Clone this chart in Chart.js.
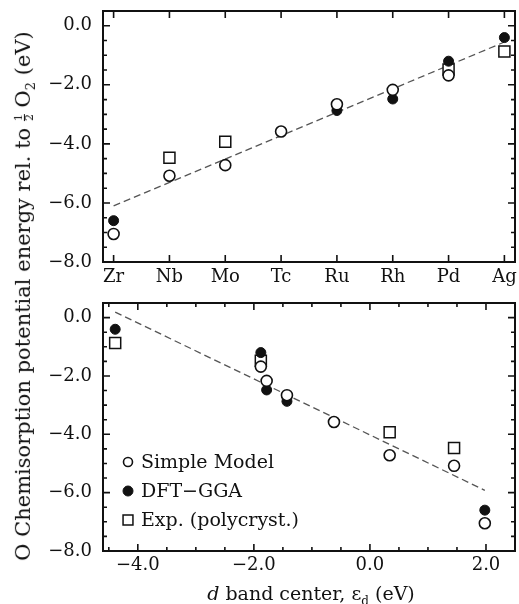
<!DOCTYPE html>
<html>
<head>
<meta charset="utf-8">
<script src="https://cdn.jsdelivr.net/npm/chart.js@4.4.0/dist/chart.umd.min.js"></script>
<style>
  body { margin: 0; background: #fff; }
  #wrap { position: relative; width: 519px; height: 604px; overflow: hidden; font-family: "DejaVu Serif", serif; color: #111; }
  .box { position: absolute; left: 0; width: 519px; }
  #ytitle { position: absolute; width: 620px; left: -283px; top: 281px; text-align: center; font-size: 21px;
            white-space: nowrap; transform: rotate(-90deg); transform-origin: center; line-height: 22px; }
  .frac { display: inline-block; vertical-align: middle; font-size: 11px; line-height: 10px; text-align: center; }
  .frac span { display: block; }
  .frac span.den { border-top: 1px solid #111; }
  #xtitle { position: absolute; left: 0; width: 622px; top: 582px; text-align: center; font-size: 19px; white-space: nowrap; }
  #xtitle sub { font-size: 12px; }
</style>
</head>
<body>
<div id="wrap">
  <div class="box" style="top:0;height:300px"><canvas id="top"></canvas></div>
  <div class="box" style="top:292px;height:312px"><canvas id="bottom"></canvas></div>
  <div id="ytitle">O Chemisorption potential energy rel. to <span class="frac"><span>1</span><span class="den">2</span></span> O<sub style="font-size:13px">2</sub> (eV)</div>
  <div id="xtitle"><i>d</i> band center, ε<sub>d</sub> (eV)</div>
</div>
<script>
// metals, top panel x labels
const metals = ['Zr', 'Nb', 'Mo', 'Tc', 'Ru', 'Rh', 'Pd', 'Ag'];
// d band center (eV) for each metal, bottom panel x
const dBandCenter = [1.98, 1.45, 0.34, -0.62, -1.43, -1.78, -1.88, -4.39];

// O chemisorption energies (eV)
const simpleModel = [-7.05, -5.08, -4.72, -3.58, -2.66, -2.17, -1.68, null];
const dftGGA = [-6.6, null, null, null, -2.87, -2.48, -1.2, -0.4];
const expPoly = [null, -4.47, -3.93, null, null, null, -1.48, -0.87];

// dashed fit lines
const fitTopX = [0, 7];
const fitTopY = [-6.1, -0.55];
const fitBottomX = [-4.39, 1.98];
const fitBottomY = [0.19, -5.92];

const ink = '#111';

function pts(xs, ys) {
  return xs.map((x, i) => ({x: x, y: ys[i]})).filter(p => p.y !== null);
}

function minus(v) {
  return v.toFixed(1).replace('-', '\u2212');
}

// box round the plot with inward ticks on all four sides
const framePlugin = {
  id: 'frame',
  afterDraw(chart, args, opts) {
    const ctx = chart.ctx;
    const a = chart.chartArea;
    const xs = chart.scales.x, ys = chart.scales.y;
    ctx.save();
    ctx.strokeStyle = ink;
    ctx.lineWidth = 1.6;
    ctx.beginPath();
    const tick = (p, len, horiz) => {
      if (horiz) {
        ctx.moveTo(p, a.bottom); ctx.lineTo(p, a.bottom - len);
        ctx.moveTo(p, a.top); ctx.lineTo(p, a.top + len);
      } else {
        ctx.moveTo(a.left, p); ctx.lineTo(a.left + len, p);
        ctx.moveTo(a.right, p); ctx.lineTo(a.right - len, p);
      }
    };
    xs.ticks.forEach(t => tick(xs.getPixelForValue(t.value), 7, true));
    ys.ticks.forEach(t => tick(ys.getPixelForValue(t.value), 7, false));
    if (opts.xMinor) {
      for (let v = Math.ceil(xs.min / opts.xMinor) * opts.xMinor; v <= xs.max; v += opts.xMinor) {
        tick(xs.getPixelForValue(v), 4, true);
      }
    }
    if (opts.yMinor) {
      for (let v = Math.ceil(ys.min / opts.yMinor) * opts.yMinor; v <= ys.max; v += opts.yMinor) {
        tick(ys.getPixelForValue(v), 4, false);
      }
    }
    ctx.stroke();
    ctx.lineWidth = 2;
    ctx.strokeRect(a.left, a.top, a.right - a.left, a.bottom - a.top);
    ctx.restore();
  }
};

// legend in the lower left of the bottom panel
const legendPlugin = {
  id: 'boxLegend',
  afterDatasetsDraw(chart, args, opts) {
    if (!opts.show) return;
    const ctx = chart.ctx;
    const a = chart.chartArea;
    let y = a.bottom - 89;
    ctx.save();
    ctx.font = '19px "DejaVu Serif"';
    ctx.textBaseline = 'middle';
    chart.data.datasets.forEach(ds => {
      if (!ds.inLegend) return;
      ctx.strokeStyle = ds.borderColor;
      ctx.fillStyle = ds.backgroundColor;
      ctx.lineWidth = ds.borderWidth;
      Chart.helpers.drawPoint(ctx, {pointStyle: ds.pointStyle, radius: ds.legendRadius, borderWidth: ds.borderWidth}, a.left + 25, y);
      ctx.fillStyle = ink;
      ctx.fillText(ds.label, a.left + 38, y + 1);
      y += 29;
    });
    ctx.restore();
  }
};

function markerSets(xs) {
  return [
    {label: 'Simple Model', data: pts(xs, simpleModel), pointStyle: 'circle', pointRadius: 5.5, legendRadius: 4.5,
     backgroundColor: '#fff', borderColor: ink, borderWidth: 1.6, inLegend: true},
    {label: 'DFT\u2212GGA', data: pts(xs, dftGGA), pointStyle: 'circle', pointRadius: 5, legendRadius: 5,
     backgroundColor: ink, borderColor: ink, borderWidth: 1, inLegend: true},
    {label: 'Exp. (polycryst.)', data: pts(xs, expPoly), pointStyle: 'rect', pointRadius: 7.8, legendRadius: 7,
     backgroundColor: '#fff', borderColor: ink, borderWidth: 1.5, inLegend: true}
  ];
}

function fitSet(xs, ys) {
  return {type: 'line', label: 'fit', data: pts(xs, ys), showLine: true, pointRadius: 0,
          borderColor: '#555', borderWidth: 1.3, borderDash: [7, 4], fill: false, inLegend: false};
}

function makeConfig(datasets, xOpts, yOpts, plugOpts, xHeight) {
  return {
    type: 'scatter',
    data: {datasets: datasets},
    options: {
      responsive: true,
      maintainAspectRatio: false,
      animation: false,
      layout: {autoPadding: false, padding: {top: 0, right: 4, left: 0, bottom: 0}},
      plugins: {
        legend: {display: false},
        tooltip: {enabled: false},
        frame: plugOpts,
        boxLegend: {show: plugOpts.legend}
      },
      scales: {
        x: Object.assign({
          type: 'linear',
          grid: {display: false, drawTicks: false},
          border: {display: false},
          afterFit: s => { s.height = xHeight; s.paddingLeft = 0; s.paddingRight = 0; }
        }, xOpts),
        y: Object.assign({
          type: 'linear',
          min: -8, max: 0.5,
          grid: {display: false, drawTicks: false},
          border: {display: false},
          ticks: {stepSize: 2, includeBounds: false, padding: 11, color: ink,
                  font: {family: 'DejaVu Serif', size: 18}, callback: v => minus(v)},
          afterFit: s => { s.width = 103; s.paddingTop = 11; s.paddingBottom = 0; }
        }, yOpts)
      }
    },
    plugins: [framePlugin, legendPlugin]
  };
}

const topX = metals.map((m, i) => i);
new Chart(document.getElementById('top'), makeConfig(
  markerSets(topX).concat([fitSet(fitTopX, fitTopY)]),
  {min: -0.19, max: 7.19,
   ticks: {stepSize: 1, includeBounds: false, padding: 5, color: ink, maxRotation: 0, autoSkip: false,
           font: {family: 'DejaVu Serif', size: 18}, callback: v => metals[v]}},
  {},
  {yMinor: 0.5, legend: false},
  38
));

new Chart(document.getElementById('bottom'), makeConfig(
  markerSets(dBandCenter).concat([fitSet(fitBottomX, fitBottomY)]),
  {min: -4.6, max: 2.5,
   ticks: {stepSize: 2, includeBounds: false, padding: 4, color: ink, maxRotation: 0,
           font: {family: 'DejaVu Serif', size: 18}, callback: v => minus(v)}},
  {},
  {xMinor: 0.5, yMinor: 0.5, legend: true},
  53
));
</script>
</body>
</html>
